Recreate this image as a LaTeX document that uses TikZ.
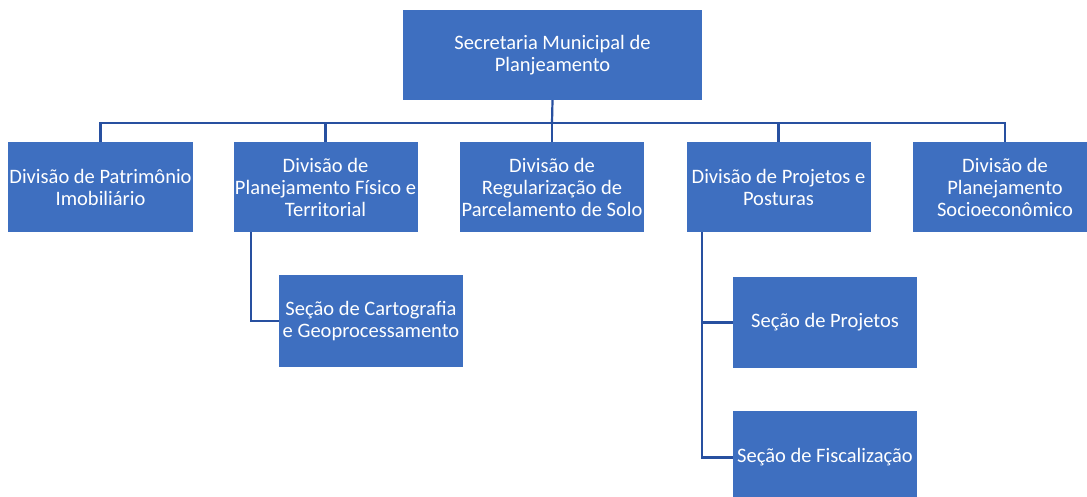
\documentclass[tikz,border=0pt]{standalone}
\usepackage{fontspec}
\setmainfont{Carlito}
\definecolor{boxblue}{RGB}{62,111,192}
\definecolor{lineblue}{RGB}{40,80,160}

\begin{document}
\begin{tikzpicture}[x=1pt, y=-1pt,
        unit/.style={fill=boxblue, text=white, align=center, inner sep=0pt,
            font=\fontsize{20.5}{22}\selectfont, minimum height=90pt, minimum width=184pt},
        link/.style={lineblue, line width=2.2pt}]
        \useasboundingbox (0, 0) rectangle (1087, 497);
        \node[unit, minimum width=299pt] (sec) at (552.5, 55) {Secretaria Municipal de\\Planjeamento};
        \node[unit, minimum width=185pt] (d1) at (100.5, 187) {Divisão de Patrimônio\\Imobiliário};
        \node[unit] (d2) at (325.5, 187) {Divisão de\\Planejamento Físico e\\Territorial};
        \node[unit] (d3) at (552, 187) {Divisão de\\Regularização de\\Parcelamento de Solo};
        \node[unit] (d4) at (778.5, 187) {Divisão de Projetos e\\Posturas};
        \node[unit] (d5) at (1005, 187) {Divisão de\\Planejamento\\Socioeconômico};
        \node[unit, minimum height=92pt] (carto) at (371, 321) {Seção de Cartografia\\e Geoprocessamento};
        \node[unit, minimum height=91pt] (proj) at (825, 322.5) {Seção de Projetos};
        \node[unit, minimum height=93pt] (fisc) at (825, 457.5) {Seção de Fiscalização};
        \coordinate (bus) at (552, 123);
        \draw[link] (sec.south) -- (bus);
        \foreach \d in {d1, d2, d3, d4, d5}
            \draw[link] (\d.north) |- (bus);
        \draw[link] ([xshift=18pt]d2.south west) |- (carto.west);
        \draw[link] ([xshift=16pt]d4.south west) |- (proj.west);
        \draw[link] ([xshift=16pt]d4.south west) |- (fisc.west);
    \end{tikzpicture}
\end{document}
